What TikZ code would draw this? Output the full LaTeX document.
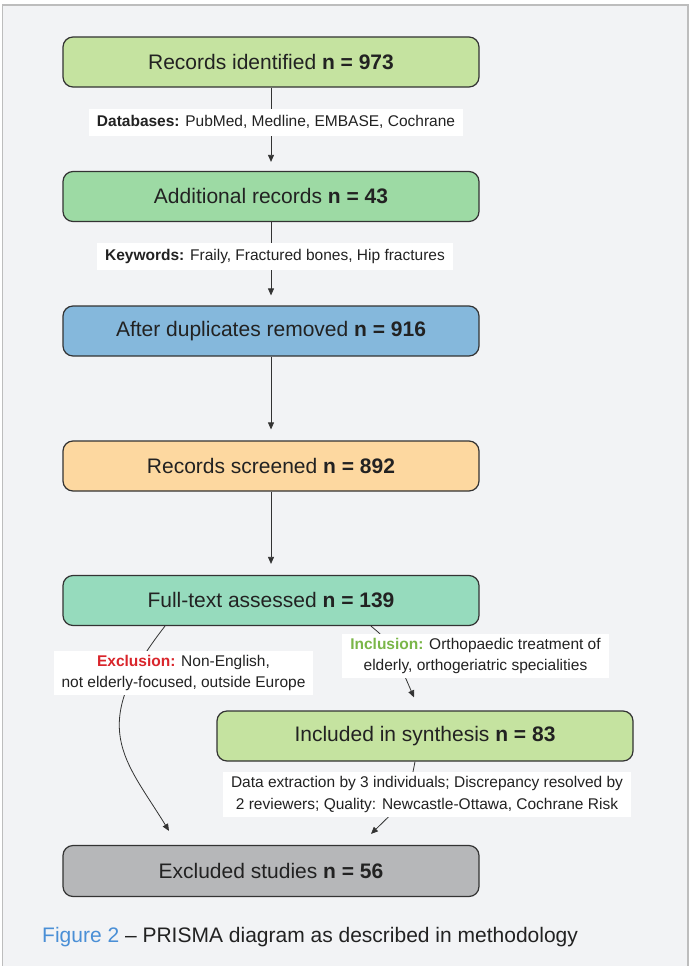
\documentclass[tikz,border=0pt]{standalone}
\usepackage{fontspec}
\setmainfont{Liberation Sans}
\usetikzlibrary{arrows.meta}
\definecolor{bgc}{HTML}{F2F3F5}
\definecolor{framec}{HTML}{BDBDBD}
\definecolor{txt}{HTML}{222222}
\definecolor{boxline}{HTML}{333333}
\definecolor{cA}{HTML}{C5E3A0}
\definecolor{cB}{HTML}{9DDAA4}
\definecolor{cC}{HTML}{85B8DC}
\definecolor{cD}{HTML}{FDD8A0}
\definecolor{cE}{HTML}{96DBBD}
\definecolor{cF}{HTML}{B6B7B9}
\definecolor{exred}{HTML}{D9252B}
\definecolor{ingreen}{HTML}{7AB648}
\definecolor{figblue}{HTML}{4A8FD6}
\begin{document}
\begin{tikzpicture}[x=1pt,y=-1pt,
  flowbox/.style={draw=boxline, line width=1.2pt, rounded corners=10pt,
    minimum width=416pt, minimum height=50pt, inner sep=0pt,
    font=\fontsize{21}{25}\selectfont, text=txt},
  lab/.style={fill=white, inner xsep=8pt, inner ysep=4.5pt,
    font=\fontsize{15.5}{21.5}\selectfont, text=txt, align=center},
  conn/.style={draw=boxline, line width=0.8pt,
    -{Triangle[length=7pt,width=6pt]}}]
\useasboundingbox (0,0) rectangle (691,966);
\fill[white] (0,0) rectangle (691,966);
\fill[bgc] (2.5,5) rectangle (688,966);
\draw[framec, line width=1.6pt] (2.5,966) -- (2.5,5) -- (688,5) -- (688,966);

\node[flowbox, fill=cA] (b1) at (271,62) {Records identified \textbf{n = 973}};
\node[flowbox, fill=cB] (b2) at (271,196.5) {Additional records \textbf{n = 43}};
\node[flowbox, fill=cC] (b3) at (271,331) {After duplicates removed \textbf{n = 916}};
\node[flowbox, fill=cD] (b4) at (271,466) {Records screened \textbf{n = 892}};
\node[flowbox, fill=cE] (b5) at (271,600.5) {Full-text assessed \textbf{n = 139}};
\node[flowbox, fill=cA] (b6) at (425,736) {Included in synthesis \textbf{n = 83}};
\node[flowbox, fill=cF, minimum height=51pt] (b7) at (271,871) {Excluded studies \textbf{n = 56}};

\draw[conn, shorten >=9pt] (b1) -- (b2);
\draw[conn, shorten >=10pt] (b2) -- (b3);
\draw[conn, shorten >=11pt] (b3) -- (b4);
\draw[conn, shorten >=11pt] (b4) -- (b5);
\draw[conn] ([xshift=-106pt]b5.south) .. controls (86,727) and (125,759) .. ([xshift=-102pt,yshift=14pt]b7.north);
\draw[conn] ([xshift=100pt]b5.south) .. controls (390,642) .. ([xshift=-11pt,yshift=13pt]b6.north);
\draw[conn] ([xshift=-10pt]b6.south) .. controls (408,798) .. ([xshift=100pt,yshift=11pt]b7.north);

\node[lab, minimum height=27pt] (l1) at (276,122) {\textbf{Databases:} PubMed, Medline, EMBASE, Cochrane};
\node[lab, minimum height=27pt] (l2) at (275,256) {\textbf{Keywords:} Fraily, Fractured bones, Hip fractures};
\node[lab] (l3) at (183.5,673) {\textcolor{exred}{\textbf{Exclusion:}} Non-English,\\not elderly-focused, outside Europe};
\node[lab] (l4) at (475.5,656) {\textcolor{ingreen}{\textbf{Inclusion:}} Orthopaedic treatment of\\elderly, orthogeriatric specialities};
\node[lab] (l5) at (427,794.5) {Data extraction by 3 individuals; Discrepancy resolved by\\2 reviewers; Quality: Newcastle-Ottawa, Cochrane Risk};

\node[anchor=base west, inner sep=0pt, font=\fontsize{21}{25}\selectfont, text=txt] (cap) at (42,942) {\textcolor{figblue}{Figure 2} – PRISMA diagram as described in methodology};
\end{tikzpicture}
\end{document}
